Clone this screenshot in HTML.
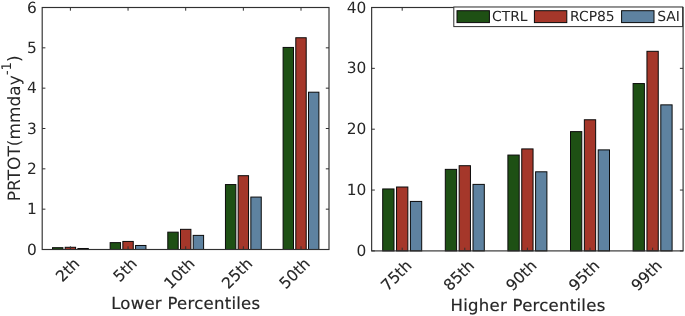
<!DOCTYPE html>
<html><head><meta charset="utf-8"><title>Percentiles</title>
<style>html,body{margin:0;padding:0;background:#fff}svg{display:block}text{text-rendering:geometricPrecision}</style></head>
<body>
<svg width="685" height="316" viewBox="0 0 685 316" font-family='"DejaVu Sans", "Liberation Sans", sans-serif' fill="#262626">
<rect width="685" height="316" fill="#fff" stroke="none"/>
<rect x="52.50" y="247.69" width="10.4" height="1.81" fill="#1E5014" stroke="#0a0a0a" stroke-width="1"/>
<rect x="65.20" y="247.28" width="10.4" height="2.22" fill="#A5372A" stroke="#0a0a0a" stroke-width="1"/>
<rect x="77.90" y="248.49" width="10.4" height="1.01" fill="#5E82A0" stroke="#0a0a0a" stroke-width="1"/>
<rect x="110.15" y="242.64" width="10.4" height="6.86" fill="#1E5014" stroke="#0a0a0a" stroke-width="1"/>
<rect x="122.85" y="241.43" width="10.4" height="8.07" fill="#A5372A" stroke="#0a0a0a" stroke-width="1"/>
<rect x="135.55" y="245.47" width="10.4" height="4.03" fill="#5E82A0" stroke="#0a0a0a" stroke-width="1"/>
<rect x="167.80" y="232.16" width="10.4" height="17.34" fill="#1E5014" stroke="#0a0a0a" stroke-width="1"/>
<rect x="180.50" y="229.33" width="10.4" height="20.17" fill="#A5372A" stroke="#0a0a0a" stroke-width="1"/>
<rect x="193.20" y="235.38" width="10.4" height="14.12" fill="#5E82A0" stroke="#0a0a0a" stroke-width="1"/>
<rect x="225.45" y="184.56" width="10.4" height="64.94" fill="#1E5014" stroke="#0a0a0a" stroke-width="1"/>
<rect x="238.15" y="175.69" width="10.4" height="73.81" fill="#A5372A" stroke="#0a0a0a" stroke-width="1"/>
<rect x="250.85" y="197.07" width="10.4" height="52.43" fill="#5E82A0" stroke="#0a0a0a" stroke-width="1"/>
<rect x="283.10" y="47.43" width="10.4" height="202.07" fill="#1E5014" stroke="#0a0a0a" stroke-width="1"/>
<rect x="295.80" y="37.75" width="10.4" height="211.75" fill="#A5372A" stroke="#0a0a0a" stroke-width="1"/>
<rect x="308.50" y="92.20" width="10.4" height="157.30" fill="#5E82A0" stroke="#0a0a0a" stroke-width="1"/>
<rect x="42.2" y="7.5" width="286.80" height="242.00" fill="none" stroke="#303030" stroke-width="1.15"/>
<text transform="translate(36.90 254.55) scale(1.0 1)" text-anchor="end" font-size="15.4" stroke="#262626" stroke-width="0">0</text>
<text transform="translate(36.90 214.22) scale(1.0 1)" text-anchor="end" font-size="15.4" stroke="#262626" stroke-width="0">1</text>
<text transform="translate(36.90 173.88) scale(1.0 1)" text-anchor="end" font-size="15.4" stroke="#262626" stroke-width="0">2</text>
<text transform="translate(36.90 133.55) scale(1.0 1)" text-anchor="end" font-size="15.4" stroke="#262626" stroke-width="0">3</text>
<text transform="translate(36.90 93.22) scale(1.0 1)" text-anchor="end" font-size="15.4" stroke="#262626" stroke-width="0">4</text>
<text transform="translate(36.90 52.88) scale(1.0 1)" text-anchor="end" font-size="15.4" stroke="#262626" stroke-width="0">5</text>
<text transform="translate(36.90 12.55) scale(1.0 1)" text-anchor="end" font-size="15.4" stroke="#262626" stroke-width="0">6</text>
<path d="M70.40 249.5v-3.2M70.40 7.5v3.2M128.05 249.5v-3.2M128.05 7.5v3.2M185.70 249.5v-3.2M185.70 7.5v3.2M243.35 249.5v-3.2M243.35 7.5v3.2M301.00 249.5v-3.2M301.00 7.5v3.2M42.2 249.50h3.2M329.0 249.50h-3.2M42.2 209.17h3.2M329.0 209.17h-3.2M42.2 168.83h3.2M329.0 168.83h-3.2M42.2 128.50h3.2M329.0 128.50h-3.2M42.2 88.17h3.2M329.0 88.17h-3.2M42.2 47.83h3.2M329.0 47.83h-3.2M42.2 7.50h3.2M329.0 7.50h-3.2" stroke="#303030" stroke-width="1" fill="none"/>
<text transform="translate(80.40 264.60) rotate(-45)" text-anchor="end" font-size="15.5" stroke="#262626" stroke-width="0.15">2th</text>
<text transform="translate(138.05 264.60) rotate(-45)" text-anchor="end" font-size="15.5" stroke="#262626" stroke-width="0.15">5th</text>
<text transform="translate(195.70 264.60) rotate(-45)" text-anchor="end" font-size="15.5" stroke="#262626" stroke-width="0.15">10th</text>
<text transform="translate(253.35 264.60) rotate(-45)" text-anchor="end" font-size="15.5" stroke="#262626" stroke-width="0.15">25th</text>
<text transform="translate(311.00 264.60) rotate(-45)" text-anchor="end" font-size="15.5" stroke="#262626" stroke-width="0.15">50th</text>
<text transform="translate(185.75 309.30) scale(1.0 1)" text-anchor="middle" font-size="16.5" letter-spacing="0.27" stroke="#262626" stroke-width="0.2">Lower Percentiles</text>
<text transform="translate(19.7 201.2) rotate(-90)" font-size="17">PRTOT(mmday<tspan font-size="13.3" dy="-8.4">-1</tspan><tspan dy="8.4">)</tspan></text>
<rect x="382.70" y="188.95" width="11.3" height="61.95" fill="#1E5014" stroke="#0a0a0a" stroke-width="1"/>
<rect x="396.55" y="187.01" width="11.3" height="63.89" fill="#A5372A" stroke="#0a0a0a" stroke-width="1"/>
<rect x="410.40" y="201.43" width="11.3" height="49.47" fill="#5E82A0" stroke="#0a0a0a" stroke-width="1"/>
<rect x="445.30" y="169.36" width="11.3" height="81.54" fill="#1E5014" stroke="#0a0a0a" stroke-width="1"/>
<rect x="459.15" y="165.71" width="11.3" height="85.19" fill="#A5372A" stroke="#0a0a0a" stroke-width="1"/>
<rect x="473.00" y="184.39" width="11.3" height="66.51" fill="#5E82A0" stroke="#0a0a0a" stroke-width="1"/>
<rect x="507.90" y="155.06" width="11.3" height="95.84" fill="#1E5014" stroke="#0a0a0a" stroke-width="1"/>
<rect x="521.75" y="148.92" width="11.3" height="101.98" fill="#A5372A" stroke="#0a0a0a" stroke-width="1"/>
<rect x="535.60" y="171.80" width="11.3" height="79.11" fill="#5E82A0" stroke="#0a0a0a" stroke-width="1"/>
<rect x="570.50" y="131.63" width="11.3" height="119.27" fill="#1E5014" stroke="#0a0a0a" stroke-width="1"/>
<rect x="584.35" y="119.77" width="11.3" height="131.13" fill="#A5372A" stroke="#0a0a0a" stroke-width="1"/>
<rect x="598.20" y="149.89" width="11.3" height="101.01" fill="#5E82A0" stroke="#0a0a0a" stroke-width="1"/>
<rect x="633.10" y="83.56" width="11.3" height="167.34" fill="#1E5014" stroke="#0a0a0a" stroke-width="1"/>
<rect x="646.95" y="51.31" width="11.3" height="199.59" fill="#A5372A" stroke="#0a0a0a" stroke-width="1"/>
<rect x="660.80" y="104.86" width="11.3" height="146.04" fill="#5E82A0" stroke="#0a0a0a" stroke-width="1"/>
<rect x="371.65" y="7.5" width="311.45" height="243.40" fill="none" stroke="#303030" stroke-width="1.15"/>
<text transform="translate(366.35 255.95) scale(1.0 1)" text-anchor="end" font-size="15.4" stroke="#262626" stroke-width="0">0</text>
<text transform="translate(366.35 195.10) scale(1.0 1)" text-anchor="end" font-size="15.4" stroke="#262626" stroke-width="0">10</text>
<text transform="translate(366.35 134.25) scale(1.0 1)" text-anchor="end" font-size="15.4" stroke="#262626" stroke-width="0">20</text>
<text transform="translate(366.35 73.40) scale(1.0 1)" text-anchor="end" font-size="15.4" stroke="#262626" stroke-width="0">30</text>
<text transform="translate(366.35 12.55) scale(1.0 1)" text-anchor="end" font-size="15.4" stroke="#262626" stroke-width="0">40</text>
<path d="M402.20 250.9v-3.2M402.20 7.5v3.2M464.80 250.9v-3.2M464.80 7.5v3.2M527.40 250.9v-3.2M527.40 7.5v3.2M590.00 250.9v-3.2M590.00 7.5v3.2M652.60 250.9v-3.2M652.60 7.5v3.2M371.65 250.90h3.2M683.1 250.90h-3.2M371.65 190.05h3.2M683.1 190.05h-3.2M371.65 129.20h3.2M683.1 129.20h-3.2M371.65 68.35h3.2M683.1 68.35h-3.2M371.65 7.50h3.2M683.1 7.50h-3.2" stroke="#303030" stroke-width="1" fill="none"/>
<text transform="translate(412.60 266.65) rotate(-45)" text-anchor="end" font-size="15.5" stroke="#262626" stroke-width="0.15">75th</text>
<text transform="translate(475.20 266.65) rotate(-45)" text-anchor="end" font-size="15.5" stroke="#262626" stroke-width="0.15">85th</text>
<text transform="translate(537.80 266.65) rotate(-45)" text-anchor="end" font-size="15.5" stroke="#262626" stroke-width="0.15">90th</text>
<text transform="translate(600.40 266.65) rotate(-45)" text-anchor="end" font-size="15.5" stroke="#262626" stroke-width="0.15">95th</text>
<text transform="translate(663.00 266.65) rotate(-45)" text-anchor="end" font-size="15.5" stroke="#262626" stroke-width="0.15">99th</text>
<text transform="translate(528.02 310.50) scale(1.0 1)" text-anchor="middle" font-size="16.5" letter-spacing="0.27" stroke="#262626" stroke-width="0.2">Higher Percentiles</text>
<rect x="453.8" y="7.0" width="228.80" height="19.6" fill="#fff" stroke="#303030" stroke-width="1"/>
<rect x="457.0" y="10.7" width="32.4" height="11.9" fill="#1E5014" stroke="#0a0a0a" stroke-width="1"/>
<text x="492.0" y="21.4" font-size="13.9">CTRL</text>
<rect x="534.4" y="10.7" width="32.4" height="11.9" fill="#A5372A" stroke="#0a0a0a" stroke-width="1"/>
<text x="570.0" y="21.4" font-size="13.9">RCP85</text>
<rect x="621.6" y="10.7" width="32.4" height="11.9" fill="#5E82A0" stroke="#0a0a0a" stroke-width="1"/>
<text x="657.3" y="21.4" font-size="13.9">SAI</text>
</svg>
</body></html>
